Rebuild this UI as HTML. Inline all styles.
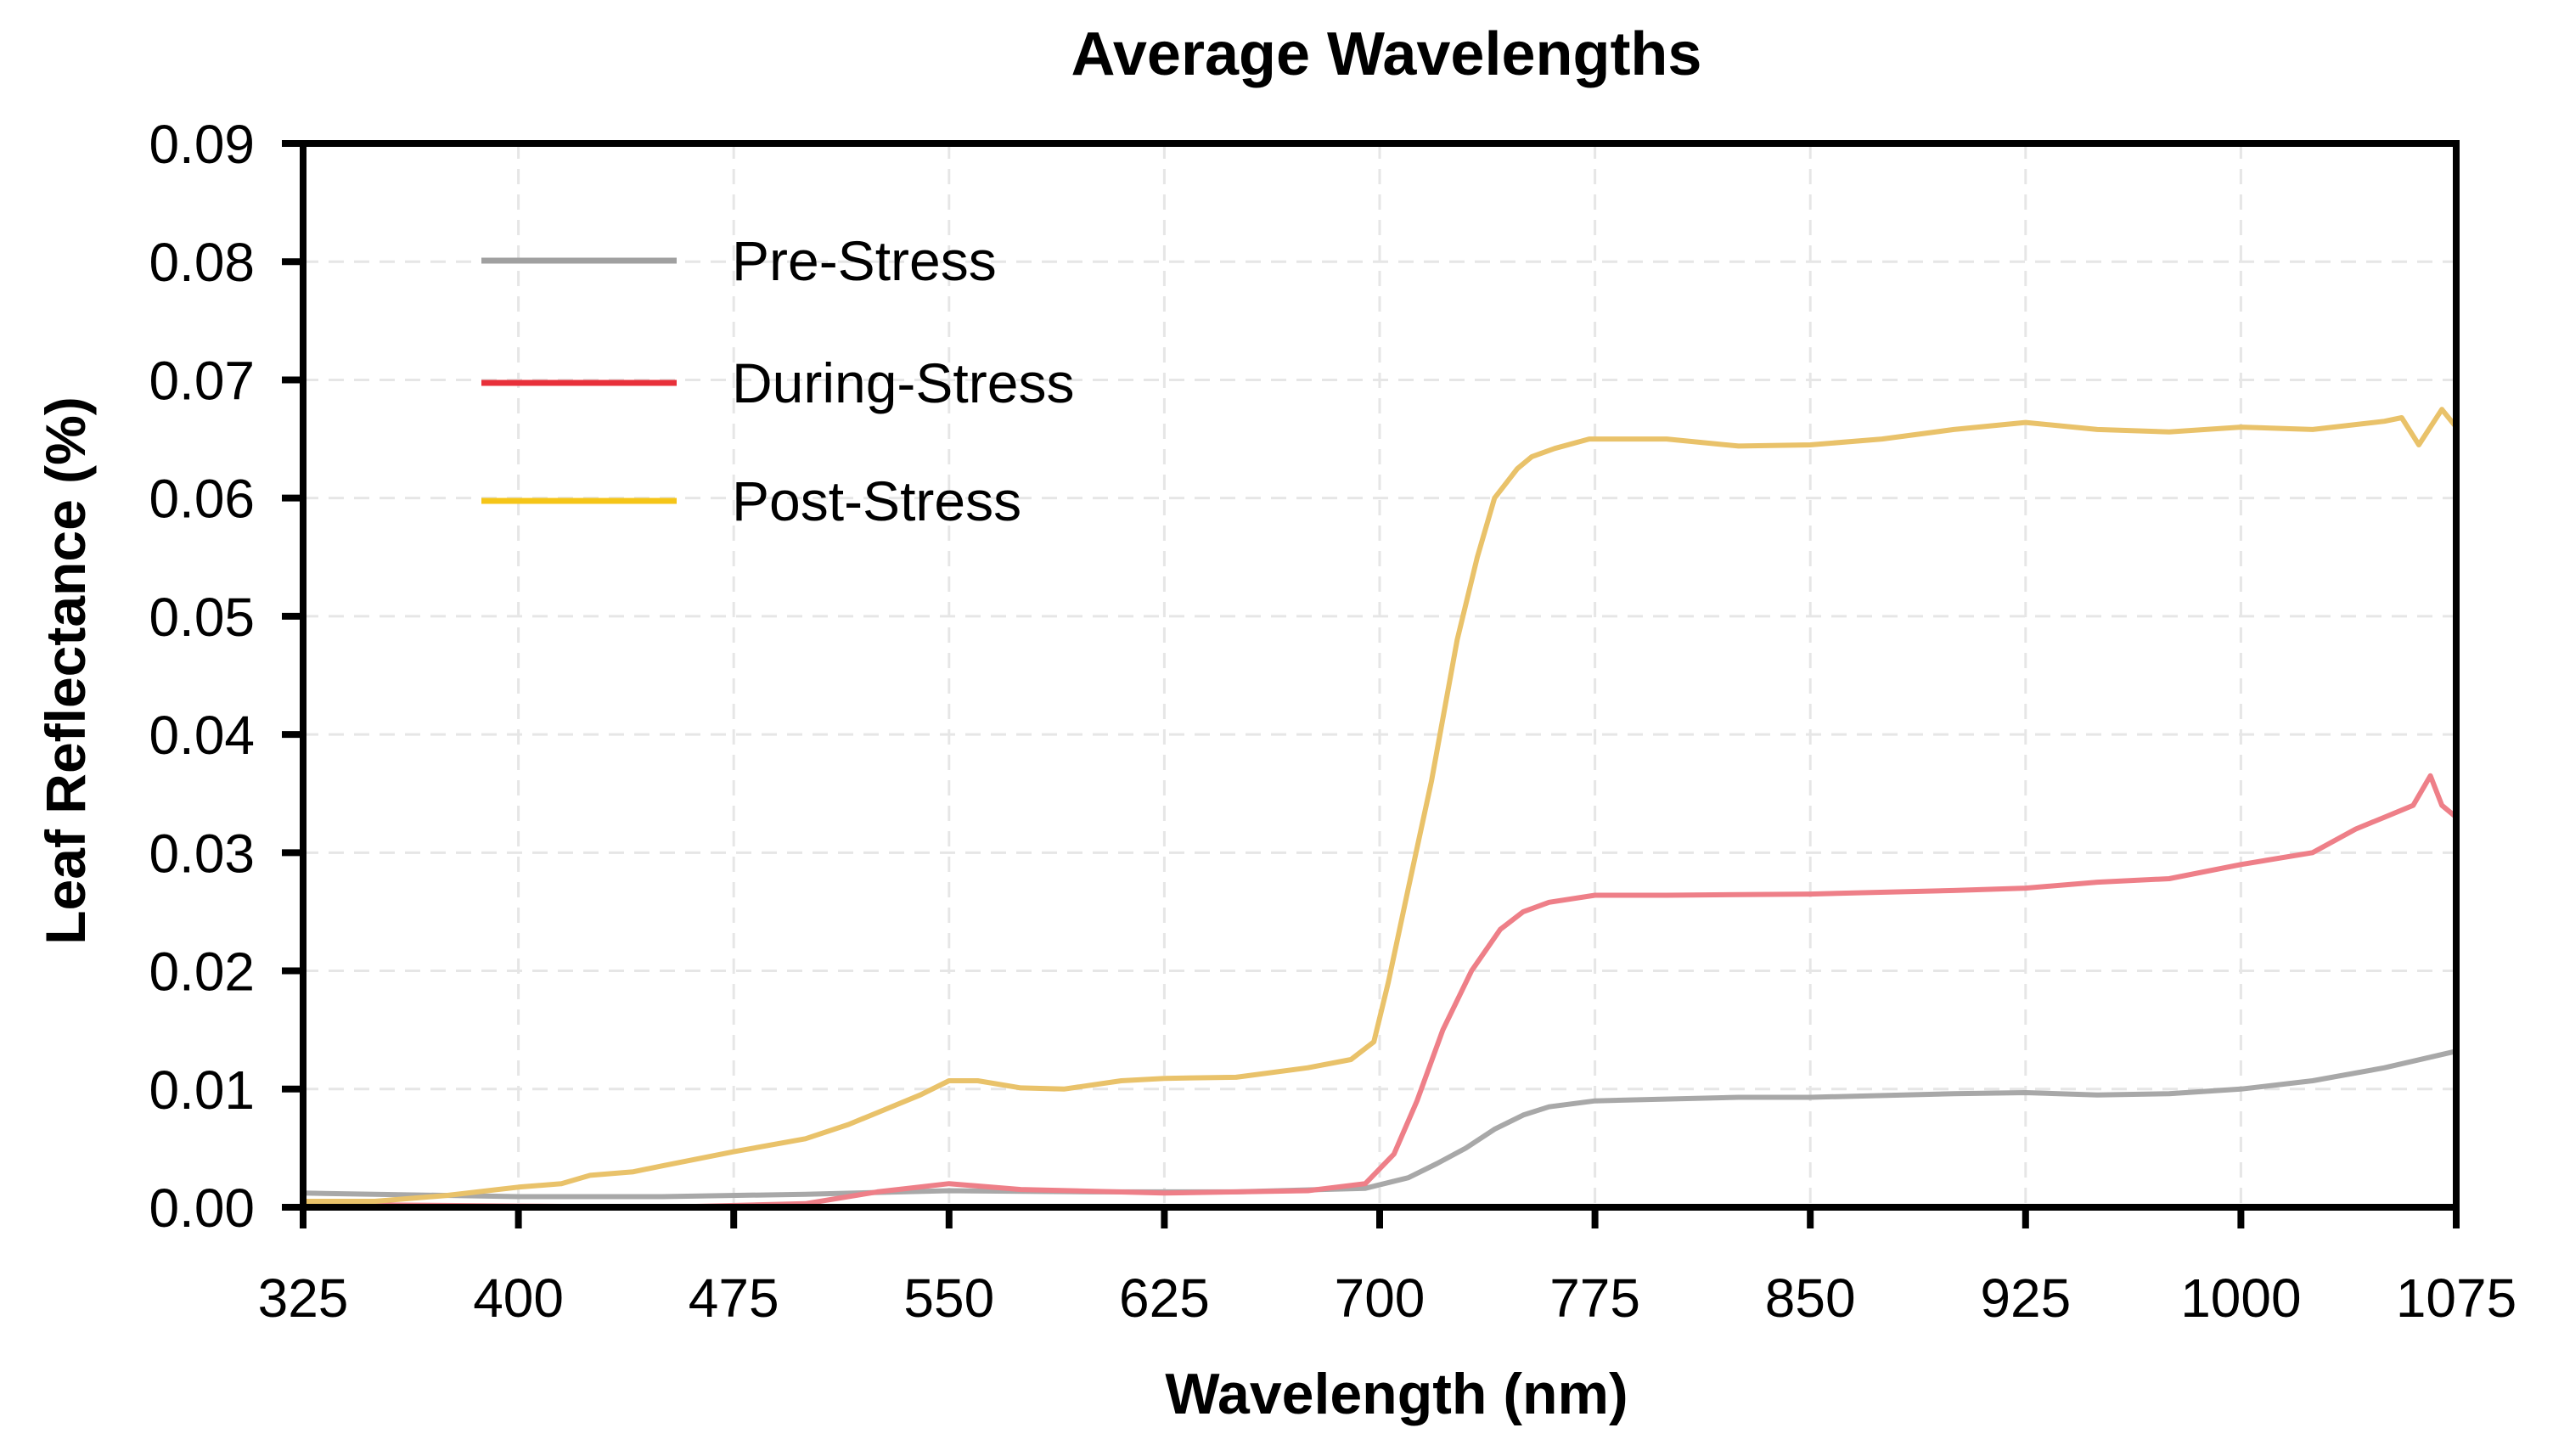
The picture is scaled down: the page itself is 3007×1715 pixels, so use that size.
<!DOCTYPE html>
<html><head><meta charset="utf-8"><style>
html,body{margin:0;padding:0;background:#fff;}
svg{display:block;font-family:"Liberation Sans",sans-serif;}
</style></head><body>
<svg id="chart" width="3007" height="1715" viewBox="0 0 3007 1715" xmlns="http://www.w3.org/2000/svg">
<text x="1633" y="88" font-size="72" font-weight="bold" text-anchor="middle">Average Wavelengths</text>
<text x="1645" y="1665" font-size="68" font-weight="bold" text-anchor="middle">Wavelength (nm)</text>
<text transform="translate(100,790) rotate(-90)" font-size="66" font-weight="bold" text-anchor="middle">Leaf Reflectance (%)</text>
<g id="grid"></g>
<g id="series"></g>
<g id="axes"></g>
<g>
<line x1="567" y1="307" x2="797" y2="307" stroke="#a0a0a0" stroke-width="7"/>
<text x="862" y="330" font-size="66">Pre-Stress</text>
<line x1="567" y1="451" x2="797" y2="451" stroke="#e8303a" stroke-width="7"/>
<text x="862" y="474" font-size="66">During-Stress</text>
<line x1="567" y1="590" x2="797" y2="590" stroke="#f5c518" stroke-width="7"/>
<text x="862" y="613" font-size="66">Post-Stress</text>
</g>
</svg>
<script>
const xTicks=[325,400,475,550,625,700,775,850,925,1000,1075];
const yTicks=[0,0.01,0.02,0.03,0.04,0.05,0.06,0.07,0.08,0.09];
const yTickLabels=["0.00","0.01","0.02","0.03","0.04","0.05","0.06","0.07","0.08","0.09"];
const postX=[325,350,375,400,415,425,440,450,475,500,515,525,540,550,560,575,590,610,625,650,675,690,698,703,710,718,727,734,740,748,753,761,773,800,825,850,875,900,925,950,975,1000,1025,1050,1056,1062,1070,1075];
const postY=[0.0005,0.0005,0.001,0.0017,0.002,0.0027,0.003,0.0035,0.0047,0.0058,0.007,0.008,0.0095,0.0107,0.0107,0.0101,0.01,0.0107,0.0109,0.011,0.0118,0.0125,0.014,0.019,0.027,0.036,0.048,0.055,0.06,0.0625,0.0635,0.0642,0.065,0.065,0.0644,0.0645,0.065,0.0658,0.0664,0.0658,0.0656,0.066,0.0658,0.0665,0.0668,0.0645,0.0675,0.066];
const duringX=[325,350,400,450,500,525,550,575,625,675,695,705,713,722,732,742,750,759,775,800,850,900,925,950,975,1000,1025,1040,1050,1060,1066,1070,1075];
const duringY=[0.0003,0.0002,0.0001,0.0,0.0003,0.0013,0.002,0.0015,0.0012,0.0014,0.002,0.0045,0.009,0.015,0.02,0.0235,0.025,0.0258,0.0264,0.0264,0.0265,0.0268,0.027,0.0275,0.0278,0.029,0.030,0.032,0.033,0.034,0.0365,0.034,0.033];
const preX=[325,350,400,450,500,550,600,650,695,710,720,730,740,750,759,775,825,850,900,925,950,975,1000,1025,1050,1075];
const preY=[0.0012,0.0011,0.0009,0.0009,0.0011,0.0014,0.0013,0.0013,0.0016,0.0025,0.0037,0.005,0.0066,0.0078,0.0085,0.009,0.0093,0.0093,0.0096,0.0097,0.0095,0.0096,0.01,0.0107,0.0118,0.0132];

const L=357,R=2893,T=169,B=1422;
const sx=v=>L+(v-325)/(1075-325)*(R-L);
const sy=v=>B-(v/0.09)*(B-T);
const NS="http://www.w3.org/2000/svg";
function mk(tag,attrs,parent){const e=document.createElementNS(NS,tag);for(const k in attrs)e.setAttribute(k,attrs[k]);parent.appendChild(e);return e;}
const grid=document.getElementById('grid'),axes=document.getElementById('axes'),series=document.getElementById('series');
yTicks.forEach((v,i)=>{
  if(i>0&&i<yTicks.length-1){const g=mk('line',{x1:L,x2:R,y1:sy(v),y2:sy(v),stroke:'#e6e6e6','stroke-width':3,'stroke-dasharray':'18 12'},grid);
  
  }
  const t=mk('line',{x1:L-25,x2:L,y1:sy(v),y2:sy(v),stroke:'#000','stroke-width':8},axes);
  
  
  const tx=mk('text',{x:300,y:sy(v)+23,'font-size':64,'text-anchor':'end'},axes);tx.textContent=yTickLabels[i];
  
  
});
xTicks.forEach((v,i)=>{
  if(i>0&&i<xTicks.length-1){const g=mk('line',{x1:sx(v),x2:sx(v),y1:T,y2:B,stroke:'#e6e6e6','stroke-width':3,'stroke-dasharray':'18 12'},grid);
  
  }
  const t=mk('line',{x1:sx(v),x2:sx(v),y1:B,y2:B+25,stroke:'#000','stroke-width':8},axes);
  
  
  const tx=mk('text',{x:sx(v),y:1551,'font-size':64,'text-anchor':'middle'},axes);tx.textContent=v;
  
  
});
const frame=mk('rect',{x:L,y:T,width:R-L,height:B-T,fill:'none',stroke:'#000','stroke-width':8},axes);


function line(xs,ys,color,name){
  const d=xs.map((x,i)=>(i?'L':'M')+sx(x).toFixed(1)+','+sy(ys[i]).toFixed(1)).join(' ');
  const p=mk('path',{d:d,fill:'none',stroke:color,'stroke-width':6,'stroke-linejoin':'round'},series);
  
  
}
line(preX,preY,'#a8a8a8','pre-stress-line');
line(duringX,duringY,'#ee7f88','during-stress-line');
line(postX,postY,'#e9c26a','post-stress-line');
</script>
</body></html>
